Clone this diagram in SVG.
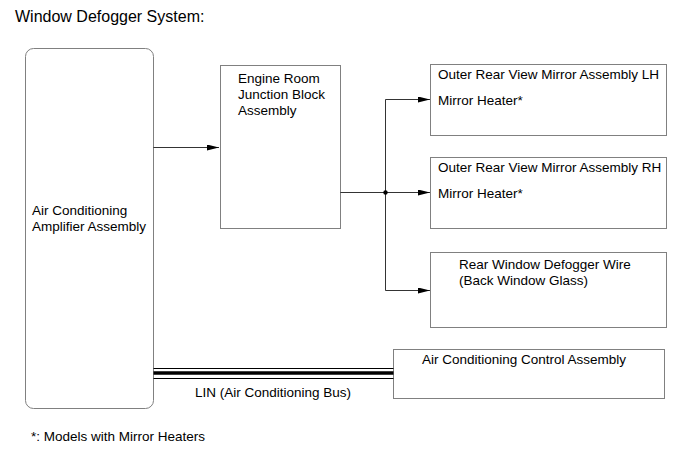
<svg xmlns="http://www.w3.org/2000/svg" width="690" height="465" viewBox="0 0 690 465">
<style>
text{font-family:"Liberation Sans",Arial,sans-serif;font-size:13.5px;fill:#000}
.box{fill:#fff;stroke:#808080;stroke-width:1}
.ln{fill:none;stroke:#000;stroke-width:0.8}
</style>
<defs>
<marker id="ah" markerWidth="12" markerHeight="6" refX="12" refY="3" orient="auto" markerUnits="userSpaceOnUse">
<path d="M0,0 L12,3 L0,6 Z" fill="#000"/>
</marker>
</defs>
<rect width="690" height="465" fill="#fff"/>
<text x="15" y="22" style="font-size:16px">Window Defogger System:</text>
<g id="amp">
<rect class="box" x="25.5" y="48.5" width="128" height="360" rx="8"/>
<text x="32" y="215">Air Conditioning</text>
<text x="32" y="231">Amplifier Assembly</text>
</g>
<g id="erjb">
<rect class="box" x="220.5" y="65.5" width="120" height="163"/>
<text x="238" y="83">Engine Room</text>
<text x="238" y="99">Junction Block</text>
<text x="238" y="115">Assembly</text>
</g>
<g id="mirrorLH">
<rect class="box" x="430.5" y="64.5" width="236" height="71"/>
<text x="438" y="79">Outer Rear View Mirror Assembly LH</text>
<text x="438" y="105">Mirror Heater*</text>
</g>
<g id="mirrorRH">
<rect class="box" x="430.5" y="157.5" width="236" height="71"/>
<text x="438" y="172">Outer Rear View Mirror Assembly RH</text>
<text x="438" y="198">Mirror Heater*</text>
</g>
<g id="defogger">
<rect class="box" x="430.5" y="252.5" width="236" height="75"/>
<text x="459" y="269">Rear Window Defogger Wire</text>
<text x="459" y="285">(Back Window Glass)</text>
</g>
<g id="acctrl">
<rect class="box" x="393.5" y="349.5" width="271" height="49"/>
<text x="422" y="364">Air Conditioning Control Assembly</text>
</g>
<g id="connectors">
<line class="ln" x1="153.5" y1="147.5" x2="219" y2="147.5" marker-end="url(#ah)"/>
<line class="ln" x1="340.5" y1="192.5" x2="385.5" y2="192.5"/>
<line class="ln" x1="385.5" y1="99.5" x2="385.5" y2="290.5"/>
<line class="ln" x1="385.5" y1="99.5" x2="430" y2="99.5" marker-end="url(#ah)"/>
<line class="ln" x1="385.5" y1="192.5" x2="430" y2="192.5" marker-end="url(#ah)"/>
<line class="ln" x1="385.5" y1="290.5" x2="430" y2="290.5" marker-end="url(#ah)"/>
<circle cx="385.5" cy="192.5" r="2.2" fill="#000"/>
<line x1="153.5" y1="368.5" x2="393.5" y2="368.5" stroke="#000" stroke-width="1"/>
<line x1="153.5" y1="373" x2="393.5" y2="373" stroke="#000" stroke-width="3.5"/>
<line x1="153.5" y1="378.5" x2="393.5" y2="378.5" stroke="#000" stroke-width="1"/>
<text x="195" y="397">LIN (Air Conditioning Bus)</text>
</g>
<text x="31" y="441">*: Models with Mirror Heaters</text>
</svg>
